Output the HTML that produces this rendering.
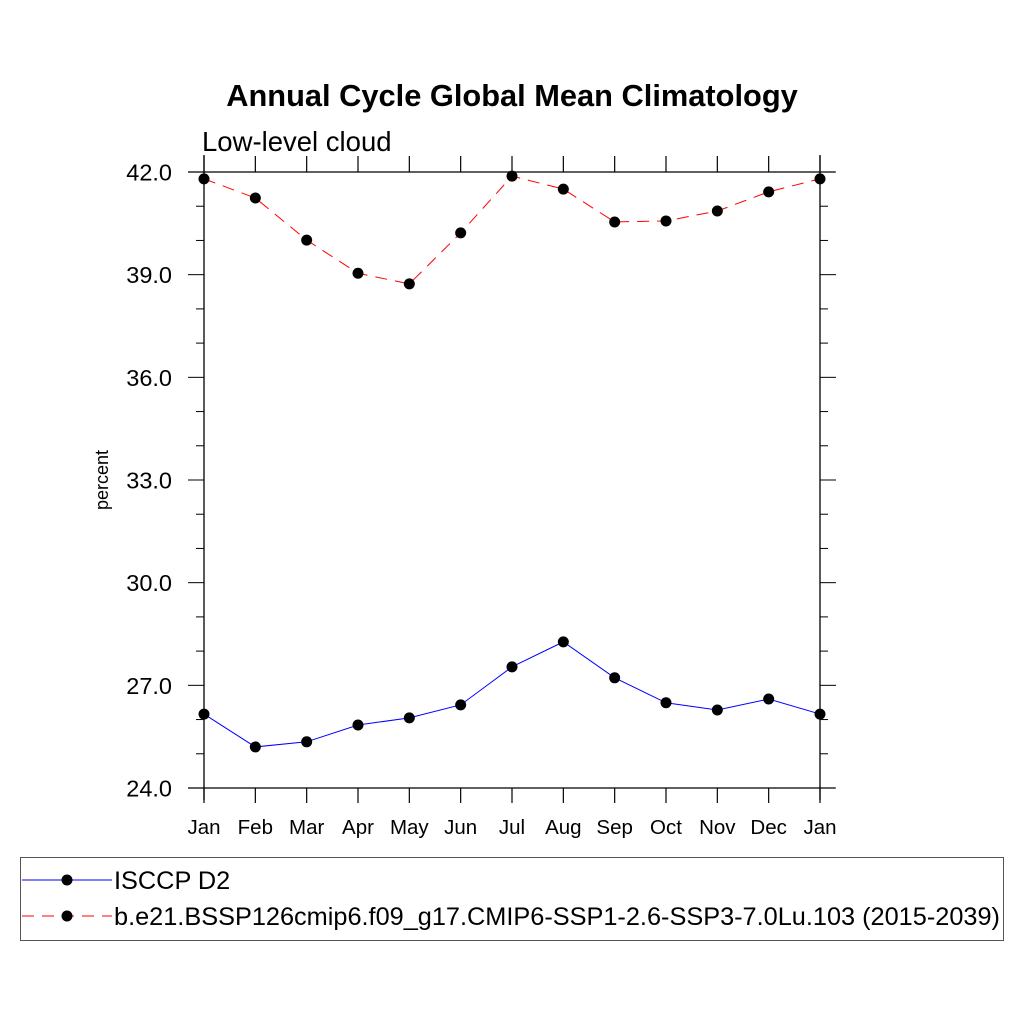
<!DOCTYPE html>
<html><head><meta charset="utf-8"><style>body{margin:0;background:#fff}</style></head>
<body>
<svg id="chart" width="1024" height="1024" xmlns="http://www.w3.org/2000/svg" font-family="Liberation Sans, sans-serif">
<rect width="1024" height="1024" fill="#fff"/>
<text x="512" y="106" text-anchor="middle" font-size="30.8" font-weight="bold">Annual Cycle Global Mean Climatology</text>
<text x="202" y="151" font-size="27.5">Low-level cloud</text>
<text transform="translate(108,480) rotate(-90)" text-anchor="middle" font-size="18">percent</text>
<g id="axes"></g>
<g id="series"></g>
<rect x="20.5" y="857.5" width="983" height="83" fill="none" stroke="#555" stroke-width="1"/>
<g>
<line x1="22" y1="880" x2="112" y2="880" stroke="#00f" stroke-width="1"/>
<circle cx="67" cy="880" r="5.5" fill="#000"/>
<text x="114" y="889" font-size="25.3">ISCCP D2</text></g>
<g>
<line x1="22" y1="916" x2="112" y2="916" stroke="#f00" stroke-width="1" stroke-dasharray="12,8"/>
<circle cx="67" cy="916" r="5.5" fill="#000"/>
<text x="114" y="925" font-size="25.3">b.e21.BSSP126cmip6.f09_g17.CMIP6-SSP1-2.6-SSP3-7.0Lu.103 (2015-2039)</text></g>
</svg>
<script>
const months=["Jan","Feb","Mar","Apr","May","Jun","Jul","Aug","Sep","Oct","Nov","Dec","Jan"];
const yTicks=[24,27,30,33,36,39,42];
const yTickLabels=["24.0","27.0","30.0","33.0","36.0","39.0","42.0"];
const isccp=[26.16,25.2,25.35,25.84,26.05,26.43,27.54,28.27,27.22,26.49,26.28,26.6,26.16];
const model=[41.8,41.24,40.01,39.04,38.73,40.22,41.88,41.5,40.54,40.57,40.86,41.42,41.8];
const NS="http://www.w3.org/2000/svg";
const X0=204,X1=820,Y0=788,Y1=172,YMIN=24,YMAX=42;
function xs(i){return X0+(X1-X0)*i/(months.length-1);}
function ys(v){return Y0-(v-YMIN)/(YMAX-YMIN)*(Y0-Y1);}
function mk(t,a,p){const e=document.createElementNS(NS,t);for(const k in a)e.setAttribute(k,a[k]);p.appendChild(e);return e;}
const ax=document.getElementById('axes');
const frame=[[X0,155,X0,800],[X1,155,X1,800],[188,Y1,835,Y1],[188,Y0,835,Y0]];
frame.forEach(f=>{const l=mk('line',{x1:f[0],y1:f[1],x2:f[2],y2:f[3],stroke:'#000','stroke-width':1.3},ax);

});
months.forEach((m,i)=>{const x=xs(i);
mk('line',{x1:x,y1:Y0,x2:x,y2:803,stroke:'#000','stroke-width':1.2},ax);
mk('line',{x1:x,y1:Y1,x2:x,y2:156,stroke:'#000','stroke-width':1.2},ax);
const t=mk('text',{x:x,y:834,'text-anchor':'middle','font-size':20.5},ax);t.textContent=m;

});
for(let v=YMIN;v<=YMAX;v++){const y=ys(v);const major=yTicks.includes(v);const L=major?16:8;
mk('line',{x1:X0,y1:y,x2:X0-L,y2:y,stroke:'#000','stroke-width':1},ax);
mk('line',{x1:X1,y1:y,x2:X1+L,y2:y,stroke:'#000','stroke-width':1},ax);}
yTicks.forEach((v,i)=>{const t=mk('text',{x:172,y:ys(v)+8.5,'text-anchor':'end','font-size':23.5},ax);t.textContent=yTickLabels[i];

});
const sg=document.getElementById('series');
function draw(data,color,dash,name){
const pl=mk('polyline',{points:data.map((v,i)=>xs(i)+','+ys(v)).join(' '),fill:'none',stroke:color,'stroke-width':1,'stroke-dasharray':dash},sg);


data.forEach((v,i)=>{const c=mk('circle',{cx:xs(i),cy:ys(v),r:5.5,fill:'#000'},sg);

});}
draw(isccp,'#00f','none','isccp');
draw(model,'#f00','12,8','model');
</script>
</body></html>
